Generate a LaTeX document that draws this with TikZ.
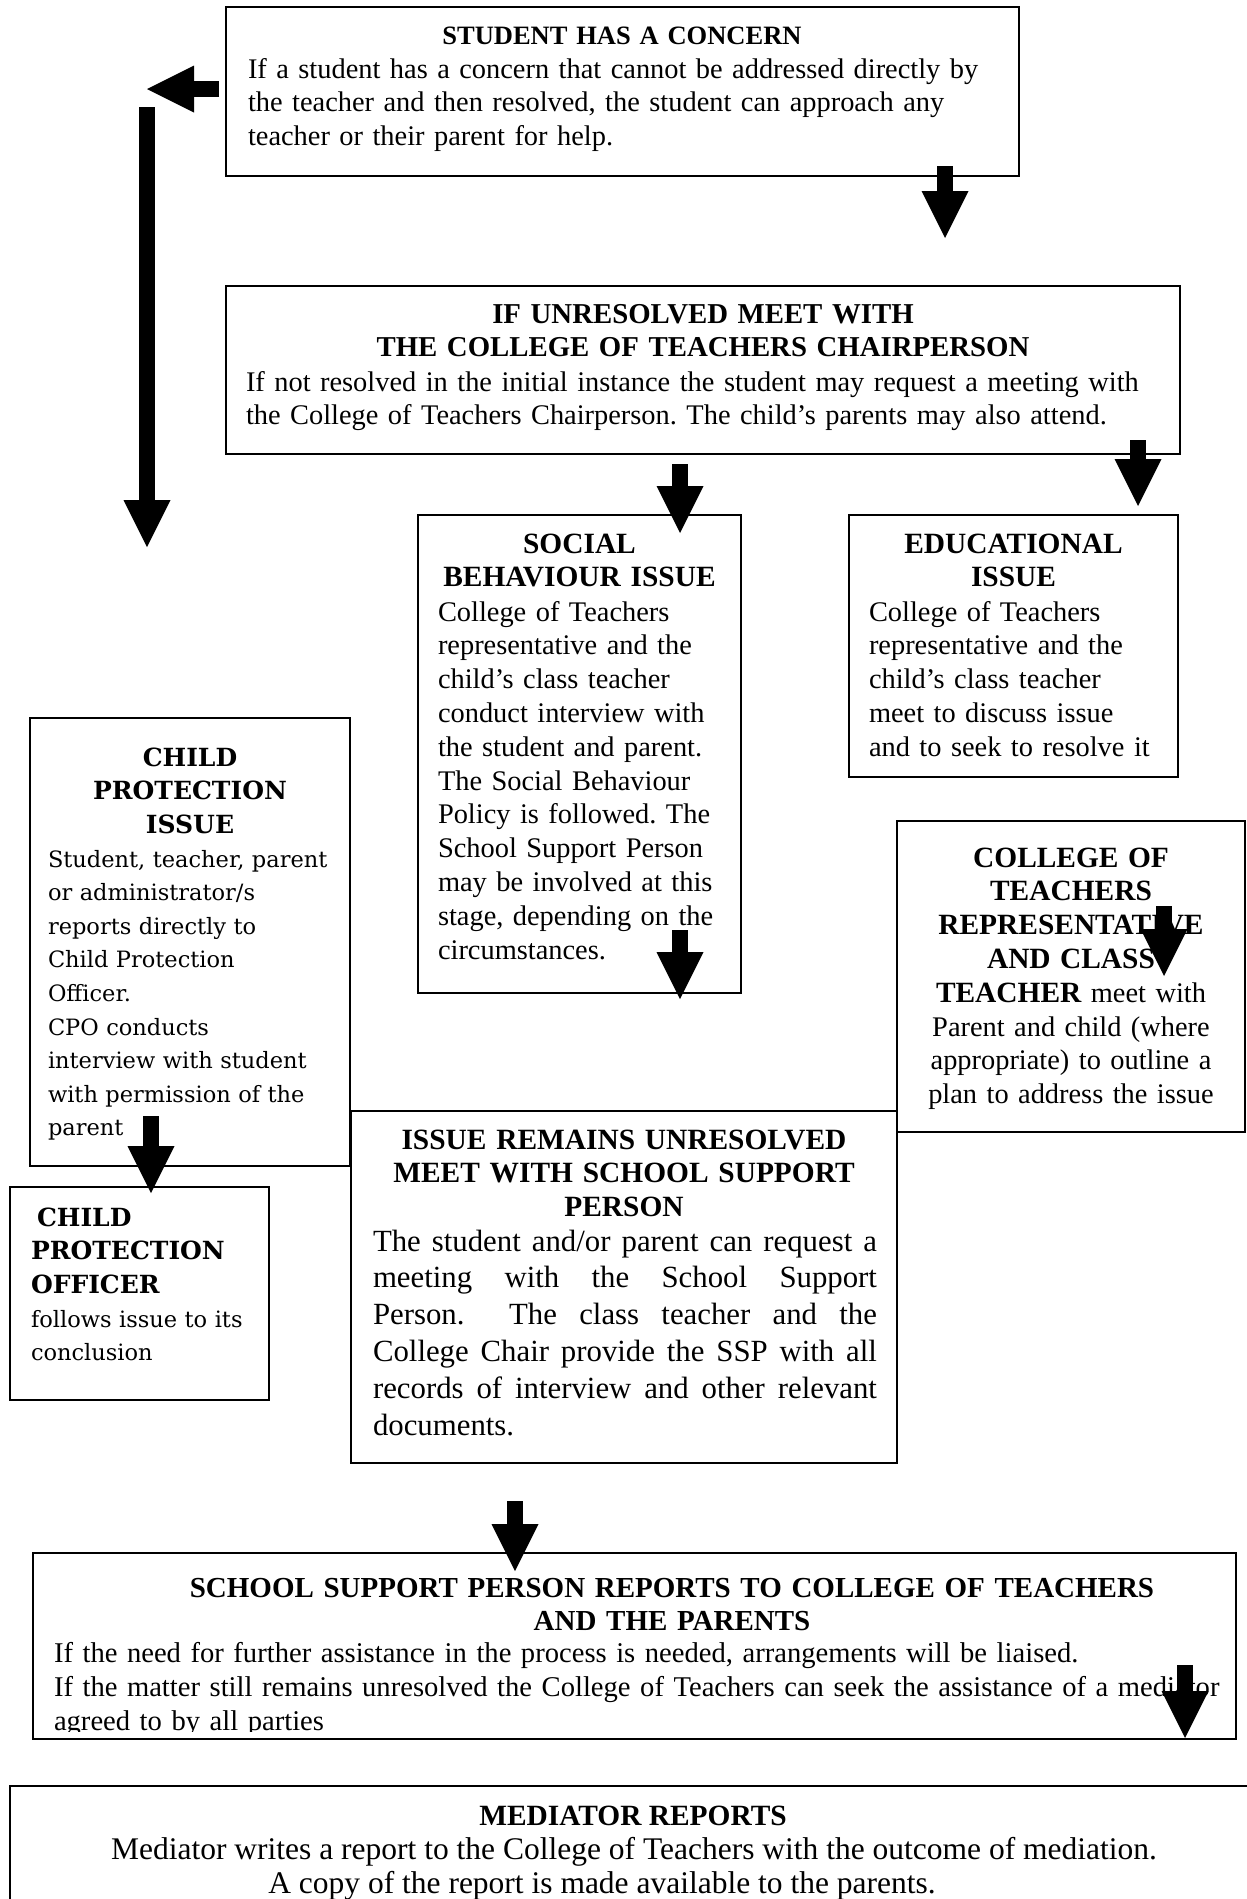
\documentclass[tikz,border=0pt]{standalone}
\usepackage{fontspec}
\setmainfont{Liberation Serif}
\newfontfamily\cpfont{DejaVu Serif}
\usetikzlibrary{arrows.meta}
\frenchspacing
\newcommand\jline[1]{\leavevmode\hbox to 504pt{\spaceskip=0.25em plus 1fil minus 0.08em\relax #1}}
\tikzset{
  x=1pt, y=-1pt,
  boxnode/.style={draw=black, line width=1.4pt, anchor=north west, inner sep=0pt, outer sep=0pt},
  txt/.style={inner sep=0pt, outer sep=0pt, font=\fontsize{28.4}{33.8}\selectfont},
  ttl/.style={txt, font=\fontsize{29.4}{33.8}\selectfont\bfseries, align=center, anchor=base},
  bodytxt/.style={txt, align=left, anchor=base west},
  cpttl/.style={inner sep=0pt, outer sep=0pt, font=\fontsize{25}{33.6}\selectfont\cpfont\bfseries},
  cpbody/.style={inner sep=0pt, outer sep=0pt, font=\fontsize{22.5}{33.6}\selectfont\cpfont, align=left, anchor=base west},
  barrow/.style={line width=16pt, -{Triangle[length=47pt,width=47pt,line width=0pt]}},
}
\begin{document}
\begin{tikzpicture}
\useasboundingbox (0,0) rectangle (1247,1899);
\clip (0,0) rectangle (1247,1899);
\fill[white] (0,0) rectangle (1247,1899);

% Student has a concern
\node[boxnode, minimum width=793pt, minimum height=169pt] (stud) at (226,7) {};
\node[ttl, text width=790pt, font=\fontsize{26.5}{33.8}\selectfont\bfseries] (studT) at (622,44) {STUDENT HAS A CONCERN};
\node[bodytxt, text width=780pt] (studB) at (248,78) {If a student has a concern that cannot be addressed directly by\\the teacher and then resolved, the student can approach any\\teacher or their parent for help.};

% If unresolved
\node[boxnode, minimum width=954pt, minimum height=168pt] (unres) at (226,286) {};
\node[ttl, text width=950pt, font=\fontsize{28.8}{33.8}\selectfont\bfseries] (unresT) at (703,323) {IF UNRESOLVED MEET WITH\\THE COLLEGE OF TEACHERS CHAIRPERSON};
\node[bodytxt, text width=940pt] (unresB) at (246,391) {If not resolved in the initial instance the student may request a meeting with\\the College of Teachers Chairperson. The child’s parents may also attend.};

% Social behaviour issue
\node[boxnode, minimum width=323pt, minimum height=478pt] (soc) at (418,515) {};
\node[ttl, text width=320pt] (socT) at (579.5,553) {SOCIAL\\BEHAVIOUR ISSUE};
\node[bodytxt, text width=300pt] (socB) at (438,621) {College of Teachers\\representative and the\\child’s class teacher\\conduct interview with\\the student and parent.\\The Social Behaviour\\Policy is followed. The\\School Support Person\\may be involved at this\\stage, depending on the\\circumstances.};

% Educational issue
\node[boxnode, minimum width=329pt, minimum height=262pt] (edu) at (849,515) {};
\node[ttl, text width=325pt] (eduT) at (1013.5,553) {EDUCATIONAL\\ISSUE};
\node[bodytxt, text width=305pt] (eduB) at (869,621) {College of Teachers\\representative and the\\child’s class teacher\\meet to discuss issue\\and to seek to resolve it};

% College of teachers representative and class teacher
\node[boxnode, minimum width=348pt, minimum height=311pt] (cot) at (897,821) {};
\node[txt, align=center, anchor=base, text width=345pt] (cotT) at (1071,867) {{\fontsize{29.4}{33.8}\selectfont\bfseries COLLEGE OF\\TEACHERS\\REPRESENTATIVE\\AND CLASS\\TEACHER} meet with\\Parent and child (where\\appropriate) to outline a\\plan to address the issue};

% Child protection issue
\node[boxnode, minimum width=320pt, minimum height=448pt] (cpi) at (30,718) {};
\node[cpttl, align=center, anchor=base, text width=316pt] (cpiT) at (190,766) {CHILD\\PROTECTION\\ISSUE};
\node[cpbody, text width=300pt] (cpiB) at (48,867) {Student, teacher, parent\\or administrator/s\\reports directly to\\Child Protection\\Officer.\\CPO conducts\\interview with student\\with permission of the\\parent};

% Child protection officer
\node[boxnode, minimum width=259pt, minimum height=213pt] (cpo) at (10,1187) {};
\node[cpttl, align=left, anchor=base west, text width=250pt] (cpoT) at (31,1226) {\hspace*{6pt}CHILD\\PROTECTION\\OFFICER};
\node[cpbody, text width=250pt] (cpoB) at (31,1327) {follows issue to its\\conclusion};

% Issue remains unresolved
\node[boxnode, minimum width=546pt, minimum height=352pt] (ssp) at (351,1111) {};
\node[ttl, text width=540pt] (sspT) at (624,1149) {ISSUE REMAINS UNRESOLVED\\MEET WITH SCHOOL SUPPORT\\PERSON};
\node[txt, align=left, anchor=base west, text width=504pt, font=\fontsize{30.8}{36.8}\selectfont] (sspB) at (373,1251) {\jline{The student and/or parent can request a}\\\jline{meeting with the School Support}\\\jline{Person.\ \ The class teacher and the}\\\jline{College Chair provide the SSP with all}\\\jline{records of interview and other relevant}\\documents.};

% SSP reports
\node[boxnode, minimum width=1203pt, minimum height=186pt] (rep) at (33,1553) {};
\node[ttl, text width=1190pt, font=\fontsize{29}{33.8}\selectfont\bfseries] (repT) at (672,1597) {SCHOOL SUPPORT PERSON REPORTS TO COLLEGE OF TEACHERS\\AND THE PARENTS};
\begin{scope}
\clip (34,1554) rectangle (1235,1731);
\node[bodytxt, text width=1500pt, font=\fontsize{28.6}{34}\selectfont] (repB) at (54,1662) {If the need for further assistance in the process is needed, arrangements will be liaised.\\If the matter still remains unresolved the College of Teachers can seek the assistance of a mediator\\agreed to by all parties};
\end{scope}

% Mediator reports
\node[boxnode, minimum width=1260pt, minimum height=200pt] (med) at (10,1786) {};
\node[ttl] (medT) at (633,1825) {MEDIATOR REPORTS};
\node[txt, anchor=base, font=\fontsize{31.5}{34}\selectfont] (medB1) at (634,1859) {Mediator writes a report to the College of Teachers with the outcome of mediation.};
\node[txt, anchor=base, font=\fontsize{31.5}{34}\selectfont] (medB2) at (602,1893) {A copy of the report is made available to the parents.};

% Arrows
\coordinate (aA1) at (219,89);   \coordinate (aA2) at (147,89);
\coordinate (aB1) at (147,107);  \coordinate (aB2) at (147,547);
\coordinate (aC1) at (945,166);  \coordinate (aC2) at (945,238);
\coordinate (aD1) at (680,464);  \coordinate (aD2) at (680,533);
\coordinate (aE1) at (1138,440); \coordinate (aE2) at (1138,506);
\coordinate (aF1) at (1164,906); \coordinate (aF2) at (1164,976);
\coordinate (aG1) at (680,930);  \coordinate (aG2) at (680,999);
\coordinate (aH1) at (151,1116); \coordinate (aH2) at (151,1193);
\coordinate (aI1) at (515,1501); \coordinate (aI2) at (515,1571);
\coordinate (aJ1) at (1185,1665); \coordinate (aJ2) at (1185,1738);
\foreach \a in {A,B,C,D,E,F,G,H,I,J}{\draw[barrow] (a\a1) -- (a\a2);}
\end{tikzpicture}
\end{document}
